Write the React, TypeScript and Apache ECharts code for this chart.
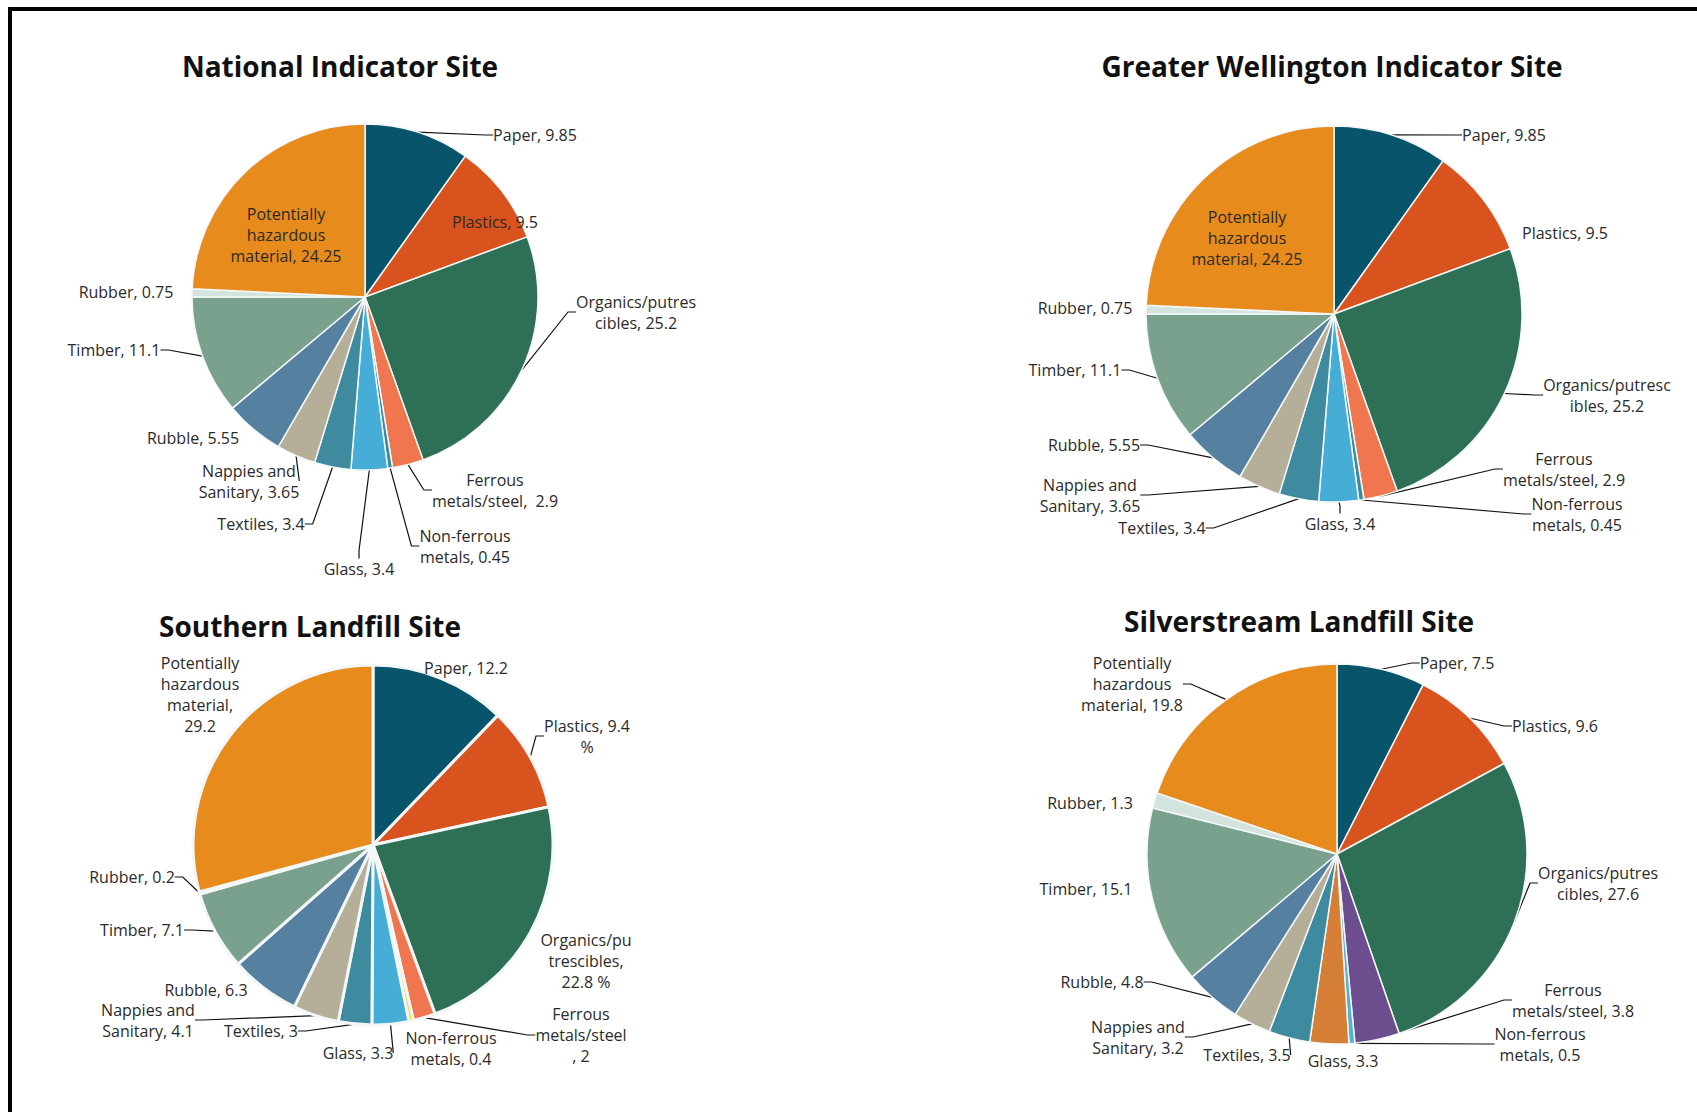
import React, { useEffect, useRef } from 'react';
import * as echarts from 'echarts';

// ---------- DATA ----------
const categories = [
  'Paper',
  'Plastics',
  'Organics/putrescibles',
  'Ferrous metals/steel',
  'Non-ferrous metals',
  'Glass',
  'Textiles',
  'Nappies and Sanitary',
  'Rubble',
  'Timber',
  'Rubber',
  'Potentially hazardous material',
];

const nationalValues = [9.85, 9.5, 25.2, 2.9, 0.45, 3.4, 3.4, 3.65, 5.55, 11.1, 0.75, 24.25];
const wellingtonValues = [9.85, 9.5, 25.2, 2.9, 0.45, 3.4, 3.4, 3.65, 5.55, 11.1, 0.75, 24.25];
const southernValues = [12.2, 9.4, 22.8, 2, 0.4, 3.3, 3, 4.1, 6.3, 7.1, 0.2, 29.2];
const silverstreamValues = [7.5, 9.6, 27.6, 3.8, 0.5, 3.3, 3.5, 3.2, 4.8, 15.1, 1.3, 19.8];

const titles = [
  'National Indicator Site',
  'Greater Wellington Indicator Site',
  'Southern Landfill Site',
  'Silverstream Landfill Site',
];

// ---------- LABEL TEXT LAYOUT (line breaks) ----------
const nationalTemplates = [
  'Paper, {c}', 'Plastics, {c}', 'Organics/putres\ncibles, {c}', 'Ferrous\nmetals/steel,  {c}',
  'Non-ferrous\nmetals, {c}', 'Glass, {c}', 'Textiles, {c}', 'Nappies and\nSanitary, {c}',
  'Rubble, {c}', 'Timber, {c}', 'Rubber, {c}', 'Potentially\nhazardous\nmaterial, {c}',
];
const wellingtonTemplates = [
  'Paper, {c}', 'Plastics, {c}', 'Organics/putresc\nibles, {c}', 'Ferrous\nmetals/steel, {c}',
  'Non-ferrous\nmetals, {c}', 'Glass, {c}', 'Textiles, {c}', 'Nappies and\nSanitary, {c}',
  'Rubble, {c}', 'Timber, {c}', 'Rubber, {c}', 'Potentially\nhazardous\nmaterial, {c}',
];
const southernTemplates = [
  'Paper, {c}', 'Plastics, {c}\n%', 'Organics/pu\ntrescibles,\n{c} %', 'Ferrous\nmetals/steel\n, {c}',
  'Non-ferrous\nmetals, {c}', 'Glass, {c}', 'Textiles, {c}', 'Nappies and\nSanitary, {c}',
  'Rubble, {c}', 'Timber, {c}', 'Rubber, {c}', 'Potentially\nhazardous\nmaterial,\n{c}',
];
const silverstreamTemplates = [
  'Paper, {c}', 'Plastics, {c}', 'Organics/putres\ncibles, {c}', 'Ferrous\nmetals/steel, {c}',
  'Non-ferrous\nmetals, {c}', 'Glass, {c}', 'Textiles, {c}', 'Nappies and\nSanitary, {c}',
  'Rubble, {c}', 'Timber, {c}', 'Rubber, {c}', 'Potentially\nhazardous\nmaterial, {c}',
];

// ---------- STYLES / POSITIONS ----------
const baseColors = [
  '#07546B', '#D9531E', '#2E7056', '#F0764F', '#3A8C9C', '#45ADD6',
  '#3E8A9F', '#B5AE98', '#55809F', '#7AA18D', '#D2E4DD', '#E68B1C',
];
const southernColors = [
  '#07546B', '#D9531E', '#2E7056', '#F0764F', '#F5D916', '#45ADD6',
  '#3E8A9F', '#B5AE98', '#55809F', '#7AA18D', '#D2E4DD', '#E68B1C',
];
const silverstreamColors = [
  '#07546B', '#D9531E', '#2E7056', '#6C4D8E', '#55B0D4', '#D47F35',
  '#3E8A9F', '#B5AE98', '#55809F', '#7AA18D', '#D2E4DD', '#E68B1C',
];

const nationalLabelPos = [
  [535, 135], [495, 222], [636, 312], [495, 490], [465, 546], [359, 569],
  [261, 524], [249, 481], [193, 438], [114, 350], [126, 292], [286, 235],
];
const wellingtonLabelPos = [
  [1504, 135], [1565, 233], [1607, 395], [1564, 469], [1577, 514], [1340, 524],
  [1162, 528], [1090, 495], [1094, 445], [1075, 370], [1085, 308], [1247, 238],
];
const southernLabelPos = [
  [466, 668], [587, 736], [586, 961], [581, 1035], [451, 1048], [358, 1053],
  [261, 1031], [148, 1020], [206, 990], [142, 930], [132, 877], [200, 694],
];
const silverstreamLabelPos = [
  [1457, 663], [1555, 726], [1598, 883], [1573, 1000], [1540, 1044], [1343, 1061],
  [1247, 1055], [1138, 1037], [1102, 982], [1086, 889], [1090, 803], [1132, 684],
];

const nationalLines = [true, false, true, true, true, true, true, true, false, true, false, false];
const wellingtonLines = [true, false, true, true, true, true, true, true, true, true, false, false];
const southernLines = [false, true, false, true, false, true, true, true, false, true, true, false];
const silverstreamLines = [true, true, true, true, true, false, true, true, true, false, false, true];

const titlePos = [[340, 66], [1332, 66], [310, 626], [1299, 621]];

const FONT = '"Open Sans", "Noto Sans", sans-serif';

type PieCfg = {
  values: number[];
  templates: string[];
  colors: string[];
  labelPos: number[][];
  lines: boolean[];
  center: number[];
  radius: number;
  borderWidth: number;
};

const pieConfigs: PieCfg[] = [
  { values: nationalValues, templates: nationalTemplates, colors: baseColors, labelPos: nationalLabelPos, lines: nationalLines, center: [365, 297], radius: 173, borderWidth: 1.5 },
  { values: wellingtonValues, templates: wellingtonTemplates, colors: baseColors, labelPos: wellingtonLabelPos, lines: wellingtonLines, center: [1334, 314], radius: 188, borderWidth: 1.5 },
  { values: southernValues, templates: southernTemplates, colors: southernColors, labelPos: southernLabelPos, lines: southernLines, center: [373, 845], radius: 180, borderWidth: 3 },
  { values: silverstreamValues, templates: silverstreamTemplates, colors: silverstreamColors, labelPos: silverstreamLabelPos, lines: silverstreamLines, center: [1337, 854], radius: 190, borderWidth: 1.5 },
];

function makeSeries(cfg: PieCfg) {
  return {
    type: 'pie',
    center: cfg.center,
    radius: cfg.radius,
    startAngle: 90,
    clockwise: true,
    silent: true,
    emphasis: { disabled: true },
    itemStyle: { borderColor: '#f4f7f7', borderWidth: cfg.borderWidth },
    data: categories.map((name, i) => ({
      name,
      value: cfg.values[i],
      itemStyle: { color: cfg.colors[i] },
      labelLine: { show: cfg.lines[i] },
    })),
    label: {
      show: true,
      position: 'outside',
      overflow: 'none',
      formatter: (p: any) => cfg.templates[p.dataIndex].replace('{c}', String(p.value)),
      fontFamily: FONT,
      fontSize: 16,
      lineHeight: 21,
      color: '#2a2a2a',
      align: 'center',
    },
    labelLine: {
      show: true,
      length: 8,
      length2: 8,
      lineStyle: { color: '#111', width: 1.2 },
    },
    labelLayout: (params: any) => {
      const p = cfg.labelPos[params.dataIndex];
      return { x: p[0], y: p[1], align: 'center', verticalAlign: 'middle' };
    },
  };
}

export default function App() {
  const ref = useRef<HTMLDivElement>(null);
  useEffect(() => {
    if (!ref.current) return;
    const chart = echarts.init(ref.current, undefined, { renderer: 'svg' });
    const graphics: any[] = [
      { type: 'rect', shape: { x: 8, y: 7, width: 1697, height: 4 }, style: { fill: '#000' } },
      { type: 'rect', shape: { x: 8, y: 7, width: 4, height: 1112 }, style: { fill: '#000' } },
    ];
    titles.forEach((t, i) => {
      graphics.push({
        type: 'text',
        x: titlePos[i][0],
        y: titlePos[i][1],
        style: {
          text: t,
          fontFamily: FONT,
          fontWeight: 'bold',
          fontSize: 28,
          fill: '#111',
          align: 'center',
          verticalAlign: 'middle',
        },
      });
    });
    chart.setOption({
      animation: false,
      backgroundColor: '#fff',
      graphic: graphics,
      series: pieConfigs.map(makeSeries),
    });
    return () => chart.dispose();
  }, []);
  return (
    <div
      ref={ref}
      style={{ position: 'absolute', left: 0, top: 0, width: 1697, height: 1112 }}
    />
  );
}
